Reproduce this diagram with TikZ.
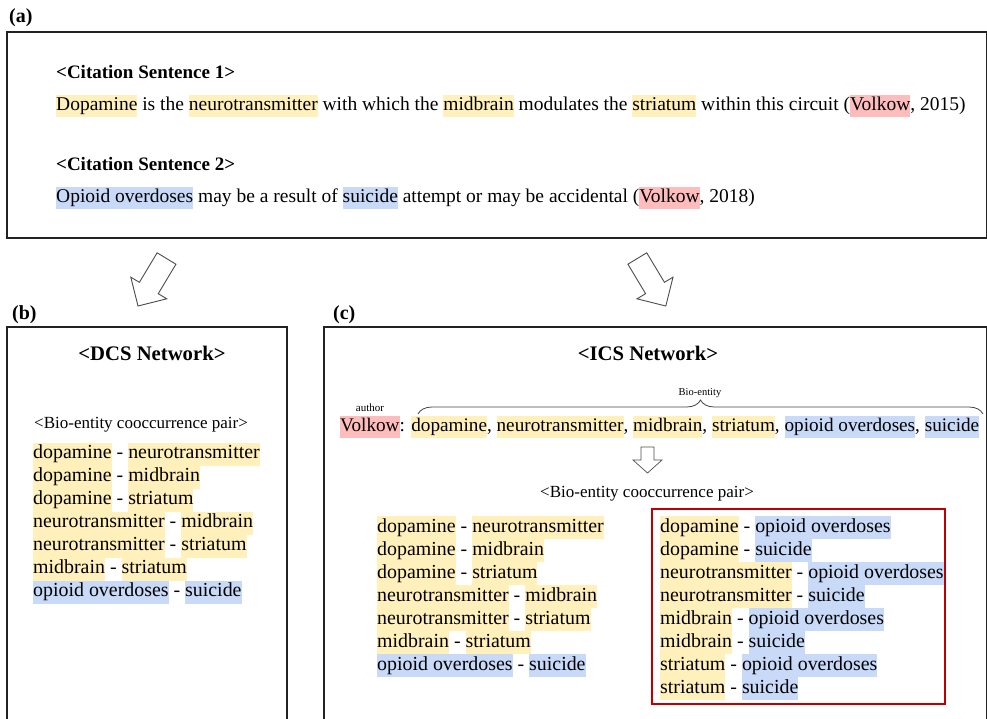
\documentclass[tikz,border=0pt]{standalone}
\usepackage{fontspec}
\setmainfont{Liberation Serif}
\usetikzlibrary{decorations.pathreplacing}
\definecolor{hy}{RGB}{255,240,188}
\definecolor{hb}{RGB}{200,218,248}
\definecolor{hp}{RGB}{255,188,188}
\definecolor{redbox}{RGB}{192,0,0}
\definecolor{edge}{RGB}{34,34,34}
\newcommand\hly[1]{{\setlength\fboxsep{0pt}\colorbox{hy}{\strut #1}}}
\newcommand\hlb[1]{{\setlength\fboxsep{0pt}\colorbox{hb}{\strut #1}}}
\newcommand\hlp[1]{{\setlength\fboxsep{0pt}\colorbox{hp}{\strut #1}}}
\tikzset{
  panel/.style={draw=edge, line width=1.4pt},
  lbl/.style={inner sep=0, anchor=base west, font=\fontsize{20}{22}\selectfont\bfseries},
  txt/.style={inner sep=0, anchor=base west, font=\fontsize{19.5}{22}\selectfont},
  head/.style={inner sep=0, anchor=base west, font=\fontsize{19}{22}\selectfont\bfseries},
  nethead/.style={inner sep=0, anchor=base, font=\fontsize{20.7}{23}\selectfont\bfseries},
  pairhead/.style={inner sep=0, anchor=base, font=\fontsize{17}{19}\selectfont},
  small/.style={inner sep=0, anchor=base, font=\fontsize{11}{12}\selectfont},
  lst/.style={inner sep=0, anchor=north west, align=left, font=\fontsize{19.9}{23}\selectfont},
  blockarrow/.style={draw=edge!80, line width=0.9pt, fill=white, line join=miter},
}
\begin{document}
\begin{tikzpicture}[x=1pt, y=-1pt]
\useasboundingbox (0,0) rectangle (987,718);
\clip (0,0) rectangle (987,718);

% panel (a)
\node[lbl] (la) at (9,22) {(a)};
\draw[panel] (7,32) rectangle (986.3,238);
\node[head] (h1) at (56,78) {<Citation Sentence 1>};
\node[txt] (s1) at (56,110) {\hly{Dopamine} is the \hly{neurotransmitter} with which the \hly{midbrain} modulates the \hly{striatum} within this circuit (\hlp{Volkow}, 2015)};
\node[head] (h2) at (56,170) {<Citation Sentence 2>};
\node[txt] (s2) at (56,202) {\hlb{Opioid overdoses} may be a result of \hlb{suicide} attempt or may be accidental (\hlp{Volkow}, 2018)};

% block arrows
\draw[blockarrow] (157.1,252.8) -- (175.9,264.2) -- (158.2,293.7) -- (166.8,298.8) -- (138,306) -- (130.8,277.2) -- (139.4,282.3) -- cycle;
\draw[blockarrow] (646.7,252.8) -- (627.9,264.2) -- (645.6,293.7) -- (637.0,298.8) -- (665.8,306) -- (673.0,277.2) -- (664.4,282.3) -- cycle;

% panel (b)
\node[lbl] (lb) at (12,319) {(b)};
\draw[panel] (7,327) rectangle (287,730);
\node[nethead] (dcs) at (152,360) {<DCS Network>};
\node[pairhead, anchor=base west] (pb) at (34,428) {<Bio-entity cooccurrence pair>};
\node[lst] (listb) at (33,442.5) {\hly{dopamine} - \hly{neurotransmitter}\\
\hly{dopamine} - \hly{midbrain}\\
\hly{dopamine} - \hly{striatum}\\
\hly{neurotransmitter} - \hly{midbrain}\\
\hly{neurotransmitter} - \hly{striatum}\\
\hly{midbrain} - \hly{striatum}\\
\hlb{opioid overdoses} - \hlb{suicide}};

% panel (c)
\node[lbl] (lc) at (333,319) {(c)};
\draw[panel] (324,327) rectangle (986.3,730);
\node[nethead] (ics) at (648,360) {<ICS Network>};
\node[small] (auth) at (370,411) {author};
\node[small, font=\fontsize{10.5}{12}\selectfont] (bio) at (700,395.5) {Bio-entity};
\draw[edge!85, line width=0.8pt, decorate, decoration={brace, amplitude=14pt}] (418,414) -- (983,414);
\node[txt, font=\fontsize{19.2}{22}\selectfont] (vol) at (340,431) {\hlp{Volkow}: \hly{dopamine}, \hly{neurotransmitter}, \hly{midbrain}, \hly{striatum}, \hlb{opioid overdoses}, \hlb{suicide}};
\draw[blockarrow, line width=0.7pt] (641,447) -- (654,447) -- (654,460) -- (662,460) -- (647.5,473) -- (633,460) -- (641,460) -- cycle;
\node[pairhead] (pc) at (647,497) {<Bio-entity cooccurrence pair>};
\node[lst] (listc1) at (377,516) {\hly{dopamine} - \hly{neurotransmitter}\\
\hly{dopamine} - \hly{midbrain}\\
\hly{dopamine} - \hly{striatum}\\
\hly{neurotransmitter} - \hly{midbrain}\\
\hly{neurotransmitter} - \hly{striatum}\\
\hly{midbrain} - \hly{striatum}\\
\hlb{opioid overdoses} - \hlb{suicide}};
\draw[redbox, line width=2pt] (652,509) rectangle (945,704);
\node[lst] (listc2) at (660,516) {\hly{dopamine} - \hlb{opioid overdoses}\\
\hly{dopamine} - \hlb{suicide}\\
\hly{neurotransmitter} - \hlb{opioid overdoses}\\
\hly{neurotransmitter} - \hlb{suicide}\\
\hly{midbrain} - \hlb{opioid overdoses}\\
\hly{midbrain} - \hlb{suicide}\\
\hly{striatum} - \hlb{opioid overdoses}\\
\hly{striatum} - \hlb{suicide}};
\end{tikzpicture}
\end{document}
